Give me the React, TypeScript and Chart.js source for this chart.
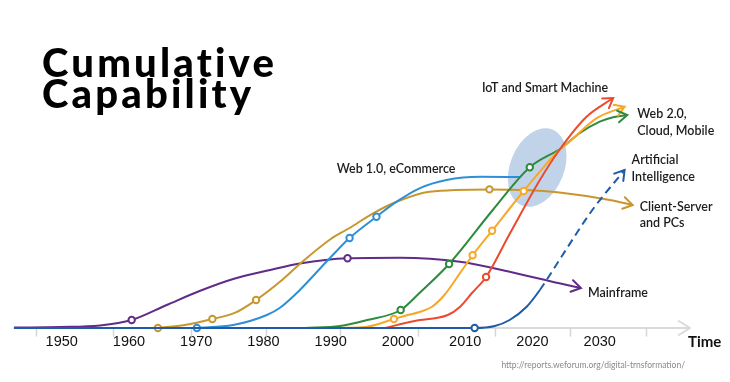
import React, { useEffect, useRef } from 'react';
import { Chart, registerables } from 'chart.js';

Chart.register(...registerables);

// ---- axis / ticks ----
const TICK_YEARS = [1950, 1960, 1970, 1980, 1990, 2000, 2010, 2020, 2030];
const TIME_TICK = 2045.6;
const TIME_LABEL = 'Time';
const TICK_MARK_YEARS = [1946.1, 1957.6, 1969.2, 1980.3, 1991.4, 2003.0, 2014.4, 2025.6, 2036.9];
const X_MIN = 1942.9;
const X_MAX = 2048.6;
const Y_MIN = 0;
const Y_MAX = 300;
const AXIS_END_YEAR = 2043.4;

// ---- series ----
const MAINFRAME_YEARS = [1942.9, 1949.7, 1955.7, 1960.4, 1965.6, 1970.5, 1975.5, 1981.0, 1985.4, 1992.5, 2000.3, 2009.2, 2016.6, 2024.0, 2027.2];
const MAINFRAME_VALUES = [0.5, 1, 2.5, 8, 23, 37, 49, 58, 64.5, 69.7, 70.3, 66.3, 56.3, 44.7, 40];
const MAINFRAME_MARKERS = [3, 9];

const CLIENT_YEARS = [1964.3, 1968.3, 1972.4, 1975.8, 1978.9, 1982.4, 1985.4, 1989.9, 1992.8, 1996.3, 1999.8, 2004.7, 2013.6, 2018.8, 2024.0, 2031.5, 2034.9];
const CLIENT_VALUES = [0, 3, 9, 15.3, 28, 46, 64, 88.5, 100, 114.7, 126.3, 136.3, 138.6, 138, 135.5, 128, 123];
const CLIENT_MARKERS = [0, 2, 4, 12];

const WEB1_YEARS = [1970.1, 1975.5, 1980.5, 1982.4, 1985.4, 1989.6, 1992.8, 1996.8, 1999.8, 2003.2, 2007.2, 2012.2, 2018.1];
const WEB1_VALUES = [0, 3, 13, 20, 38, 68, 90, 111.3, 126.3, 139.7, 148, 151.3, 151];
const WEB1_MARKERS = [0, 6, 7];

const WEB2_YEARS = [1986.1, 1991.4, 1995.4, 2000.4, 2003.2, 2007.6, 2014.1, 2019.6, 2024.3, 2027.0, 2030.0, 2032.0, 2034.1];
const WEB2_VALUES = [0, 2, 8, 18, 35, 64, 118, 160.7, 180, 194.7, 206.3, 210.7, 213];
const WEB2_MARKERS = [3, 5, 7];

const CLOUD_YEARS = [1991.4, 1995.2, 1999.4, 2001.5, 2003.2, 2005.0, 2006.9, 2009.2, 2011.1, 2014.0, 2018.7, 2024.0, 2025.5, 2029.5, 2033.7];
const CLOUD_VALUES = [0, 1, 9, 13, 16, 21, 33, 54.7, 72.7, 97.3, 137, 178, 186.3, 209.7, 221.3];
const CLOUD_MARKERS = [2, 8, 9, 10];

const IOT_YEARS = [1998.0, 2002.5, 2007.4, 2009.2, 2011.0, 2013.1, 2016.6, 2021.1, 2024.0, 2028.0, 2032.0];
const IOT_VALUES = [0, 7, 13, 21, 35, 51, 94, 148, 178, 211, 230];
const IOT_MARKERS = [5];

const AI_YEARS = [1942.9, 2011.4, 2014.4, 2016.6, 2019.1, 2021.1, 2024.0, 2028.9, 2033.7];
const AI_VALUES = [0, 0, 2, 8, 21, 38, 68, 118, 158];
const AI_MARKERS = [1];
const AI_DASH_FROM = 5;

const ELLIPSE_CENTER_YEAR = 2020.7;
const ELLIPSE_CENTER_VALUE = 160.5;

const TITLE_LINES = ['Cumulative', 'Capability'];
const SOURCE_TEXT = 'http://reports.weforum.org/digital-trnsformation/';

type Series = {
  key: string;
  years: number[];
  values: number[];
  markers: number[];
  color: string;
  arrow: boolean;
  dashFrom?: number;
};

const SERIES: Series[] = [
  { key: 'ai', years: AI_YEARS, values: AI_VALUES, markers: AI_MARKERS, color: '#1f5ca8', arrow: true, dashFrom: AI_DASH_FROM },
  { key: 'iot', years: IOT_YEARS, values: IOT_VALUES, markers: IOT_MARKERS, color: '#ec4a2f', arrow: true },
  { key: 'cloud', years: CLOUD_YEARS, values: CLOUD_VALUES, markers: CLOUD_MARKERS, color: '#f8a829', arrow: true },
  { key: 'web2', years: WEB2_YEARS, values: WEB2_VALUES, markers: WEB2_MARKERS, color: '#2e8a3c', arrow: true },
  { key: 'web1', years: WEB1_YEARS, values: WEB1_VALUES, markers: WEB1_MARKERS, color: '#2f8fd6', arrow: false },
  { key: 'client', years: CLIENT_YEARS, values: CLIENT_VALUES, markers: CLIENT_MARKERS, color: '#c8962c', arrow: true },
  { key: 'mainframe', years: MAINFRAME_YEARS, values: MAINFRAME_VALUES, markers: MAINFRAME_MARKERS, color: '#5f2c88', arrow: true },
];

const LABELS = [
  { key: 'mainframe', lines: ['Mainframe'], dx: 7, dy: 5, gap: 16, align: 'left' },
  { key: 'client', lines: ['Client-Server', 'and PCs'], dx: 7, dy: 2, gap: 16, align: 'left' },
  { key: 'ai', lines: ['Artificial', 'Intelligence'], dx: 7, dy: -10, gap: 17, align: 'left' },
  { key: 'web2', lines: ['Web 2.0,', 'Cloud, Mobile'], dx: 10, dy: -1, gap: 17, align: 'left' },
  { key: 'iot', lines: ['IoT and Smart Machine'], dx: -5, dy: -10, gap: 16, align: 'right' },
  { key: 'web1', lines: ['Web 1.0, eCommerce'], dx: -183, dy: -8, gap: 16, align: 'left' },
];

const LABEL_FONT = '600 12.5px Lato, "Open Sans", sans-serif';

const decorPlugin = {
  id: 'decor',
  beforeDatasetsDraw(chart: any) {
    const { ctx, scales, chartArea } = chart;
    const x = scales.x;
    const y = scales.y;
    ctx.save();
    // highlight ellipse
    const cx = x.getPixelForValue(ELLIPSE_CENTER_YEAR);
    const cy = y.getPixelForValue(ELLIPSE_CENTER_VALUE);
    ctx.fillStyle = 'rgba(176,199,227,0.78)';
    ctx.beginPath();
    ctx.ellipse(cx, cy, 27, 41, (22 * Math.PI) / 180, 0, Math.PI * 2);
    ctx.fill();
    // time axis
    const y0 = y.getPixelForValue(0);
    const xEnd = x.getPixelForValue(AXIS_END_YEAR);
    ctx.strokeStyle = '#dadada';
    ctx.lineWidth = 2;
    ctx.lineCap = 'round';
    ctx.beginPath();
    ctx.moveTo(chartArea.left, y0);
    ctx.lineTo(xEnd - 2, y0);
    ctx.stroke();
    ctx.beginPath();
    ctx.moveTo(xEnd - 11, y0 - 7);
    ctx.lineTo(xEnd, y0);
    ctx.lineTo(xEnd - 11, y0 + 7);
    ctx.stroke();
    ctx.lineWidth = 1.5;
    ctx.strokeStyle = '#d6d6d6';
    TICK_MARK_YEARS.forEach((yr) => {
      const px = Math.round(x.getPixelForValue(yr)) + 0.5;
      ctx.beginPath();
      ctx.moveTo(px, y0);
      ctx.lineTo(px, y0 + 8);
      ctx.stroke();
    });
    ctx.restore();
  },
  afterDatasetsDraw(chart: any) {
    const { ctx } = chart;
    ctx.save();
    SERIES.forEach((s, i) => {
      if (!s.arrow) return;
      const meta = chart.getDatasetMeta(i);
      const pts = meta.data;
      const p = pts[pts.length - 1];
      const prev = pts[pts.length - 2];
      let dx = p.x - (p.cp1x ?? prev.x);
      let dy = p.y - (p.cp1y ?? prev.y);
      if (Math.abs(dx) + Math.abs(dy) < 0.01) { dx = p.x - prev.x; dy = p.y - prev.y; }
      const ang = Math.atan2(dy, dx);
      const len = 11;
      const spread = (32 * Math.PI) / 180;
      ctx.strokeStyle = s.color;
      ctx.lineWidth = 2;
      ctx.lineCap = 'round';
      ctx.lineJoin = 'miter';
      ctx.beginPath();
      ctx.moveTo(p.x - len * Math.cos(ang - spread), p.y - len * Math.sin(ang - spread));
      ctx.lineTo(p.x, p.y);
      ctx.lineTo(p.x - len * Math.cos(ang + spread), p.y - len * Math.sin(ang + spread));
      ctx.stroke();
    });
    ctx.restore();
  },
  afterDraw(chart: any) {
    const { ctx } = chart;
    ctx.save();
    // series labels
    ctx.font = LABEL_FONT;
    ctx.fillStyle = '#1c1c1c';
    ctx.textBaseline = 'middle';
    LABELS.forEach((lab) => {
      const idx = SERIES.findIndex((s) => s.key === lab.key);
      const pts = chart.getDatasetMeta(idx).data;
      const p = pts[pts.length - 1];
      ctx.textAlign = lab.align as CanvasTextAlign;
      lab.lines.forEach((line, li) => {
        ctx.fillText(line, p.x + lab.dx, p.y + lab.dy + li * lab.gap);
      });
    });
    // title
    ctx.textAlign = 'left';
    ctx.textBaseline = 'alphabetic';
    ctx.fillStyle = '#000';
    ctx.font = '900 40px Lato, sans-serif';
    try { (ctx as any).letterSpacing = '3.2px'; } catch (e) {}
    ctx.fillText(TITLE_LINES[0], 42, 77);
    ctx.fillText(TITLE_LINES[1], 42, 108);
    try { (ctx as any).letterSpacing = '0px'; } catch (e) {}
    // source
    ctx.font = '8.5px Lato, sans-serif';
    ctx.fillStyle = '#8a8a8a';
    ctx.textAlign = 'right';
    ctx.fillText(SOURCE_TEXT, 685, 368);
    ctx.restore();
  },
};

export default function App() {
  const ref = useRef<HTMLCanvasElement | null>(null);

  useEffect(() => {
    if (!ref.current) return;
    const datasets = SERIES.map((s) => ({
      label: s.key,
      data: s.years.map((yr, i) => ({ x: yr, y: s.values[i] })),
      borderColor: s.color,
      backgroundColor: '#ffffff',
      borderWidth: 2,
      fill: false,
      cubicInterpolationMode: 'monotone' as const,
      clip: false as any,
      pointRadius: (c: any) => (s.markers.includes(c.dataIndex) ? 3.2 : 0),
      pointBorderWidth: 2,
      pointBorderColor: s.color,
      pointBackgroundColor: '#ffffff',
      pointHoverRadius: 0,
      segment: s.dashFrom !== undefined
        ? { borderDash: (c: any) => (c.p0DataIndex >= (s.dashFrom as number) ? [8, 5] : undefined) }
        : undefined,
    }));

    const chart = new Chart(ref.current, {
      type: 'line',
      data: { datasets },
      plugins: [decorPlugin],
      options: {
        animation: false,
        responsive: true,
        maintainAspectRatio: false,
        events: [],
        layout: { padding: { left: 14, right: 5, top: 28, bottom: 26 } },
        plugins: {
          legend: { display: false },
          title: { display: false },
          tooltip: { enabled: false },
        },
        scales: {
          x: {
            type: 'linear',
            min: X_MIN,
            max: X_MAX,
            grid: { display: false, drawTicks: false },
            border: { display: false },
            afterBuildTicks: (scale: any) => {
              scale.ticks = [...TICK_YEARS, TIME_TICK].map((v) => ({ value: v }));
            },
            ticks: {
              autoSkip: false,
              maxRotation: 0,
              padding: 5,
              color: '#111111',
              font: (c: any) =>
                c.tick && c.tick.value === TIME_TICK
                  ? { family: 'Lato', size: 15, weight: 'bold' }
                  : { family: '"Liberation Sans"', size: 14.5 },
              callback: (v: any) => (v === TIME_TICK ? TIME_LABEL : String(v)),
            },
          },
          y: {
            type: 'linear',
            display: false,
            min: Y_MIN,
            max: Y_MAX,
          },
        },
      },
    });
    return () => chart.destroy();
  }, []);

  return (
    <div style={{ position: 'absolute', left: 0, top: 0, width: 730, height: 382 }}>
      <canvas ref={ref} />
    </div>
  );
}
